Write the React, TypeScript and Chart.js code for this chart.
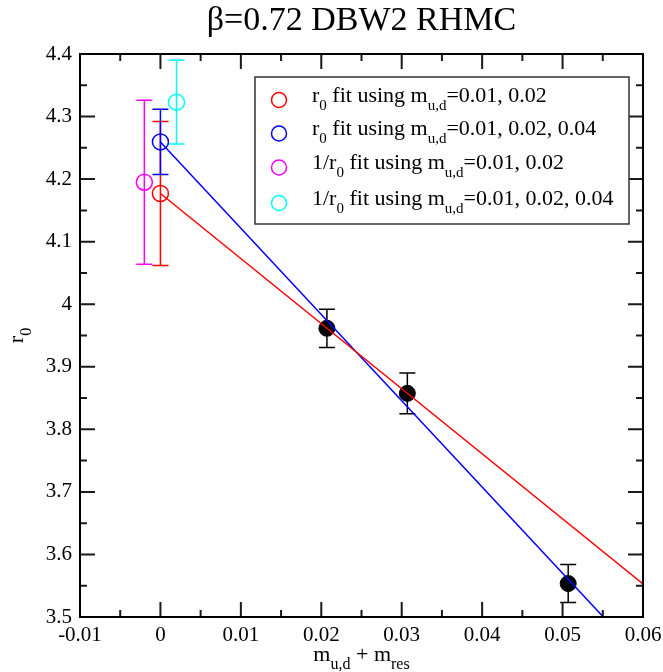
import React, { useEffect, useRef } from "react";
import { Chart, registerables } from "chart.js";

Chart.register(...registerables);

const FONT = "'Liberation Serif', 'Times New Roman', serif";

type Seg = { t: string; sub?: boolean };

// ---- text ----
const titleText = "β=0.72 DBW2 RHMC";
const xAxisLabel: Seg[] = [{ t: "m" }, { t: "u,d", sub: true }, { t: " + m" }, { t: "res", sub: true }];
const yAxisLabel: Seg[] = [{ t: "r" }, { t: "0", sub: true }];

// ---- axes ----
const xRange = [-0.01, 0.06];
const yRange = [3.5, 4.4];
const xMajorStep = 0.01;
const xMinorStep = 0.005;
const yMajorStep = 0.1;
const yMinorStep = 0.05;

// ---- simulation points ----
const simMass = [0.0207, 0.0307, 0.0507];
const simR0 = [3.9615, 3.8575, 3.5535];
const simR0Err = [0.0305, 0.0325, 0.0305];

// ---- chiral extrapolations ----
const extrapNames: Seg[][] = [
  [{ t: "r" }, { t: "0", sub: true }, { t: " fit using m" }, { t: "u,d", sub: true }, { t: "=0.01, 0.02" }],
  [{ t: "r" }, { t: "0", sub: true }, { t: " fit using m" }, { t: "u,d", sub: true }, { t: "=0.01, 0.02, 0.04" }],
  [{ t: "1/r" }, { t: "0", sub: true }, { t: " fit using m" }, { t: "u,d", sub: true }, { t: "=0.01, 0.02" }],
  [{ t: "1/r" }, { t: "0", sub: true }, { t: " fit using m" }, { t: "u,d", sub: true }, { t: "=0.01, 0.02, 0.04" }],
];
const extrapMass = [0, 0, -0.002, 0.002];
const extrapR0 = [4.177, 4.2595, 4.195, 4.323];
const extrapR0Err = [0.115, 0.052, 0.131, 0.067];
const extrapColors = ["#ff0000", "#0000ff", "#ff00ff", "#00ffff"];

// ---- linear fits ----
const fitMass = [0, 0.06];
const fit2ptR0 = [4.177, 3.553];
const fit3ptR0 = [4.2595, 3.432];

function setFont(ctx: CanvasRenderingContext2D, size: number) {
  ctx.font = `${size}px ${FONT}`;
}

function richWidth(ctx: CanvasRenderingContext2D, segs: Seg[], main: number, sub: number) {
  let w = 0;
  for (const s of segs) {
    setFont(ctx, s.sub ? sub : main);
    w += ctx.measureText(s.t).width;
  }
  return w;
}

function drawRich(
  ctx: CanvasRenderingContext2D,
  segs: Seg[],
  x: number,
  y: number,
  main: number,
  sub: number,
  subOff: number
) {
  let cx = x;
  ctx.textAlign = "left";
  ctx.textBaseline = "alphabetic";
  for (const s of segs) {
    setFont(ctx, s.sub ? sub : main);
    ctx.fillText(s.t, cx, s.sub ? y + subOff : y);
    cx += ctx.measureText(s.t).width;
  }
}

const decorPlugin = {
  id: "decor",
  beforeDatasetsDraw(chart: any) {
    const ctx: CanvasRenderingContext2D = chart.ctx;
    const xs = chart.scales.x;
    const ys = chart.scales.y;
    ctx.save();
    ctx.lineWidth = 1.5;
    chart.data.datasets.forEach((ds: any) => {
      if (!ds.errorBars) return;
      ctx.strokeStyle = ds.borderColor;
      ds.data.forEach((p: any, i: number) => {
        const e = ds.errorBars[i];
        const px = xs.getPixelForValue(p.x);
        const pt = ys.getPixelForValue(p.y + e);
        const pb = ys.getPixelForValue(p.y - e);
        ctx.beginPath();
        ctx.moveTo(px, pt);
        ctx.lineTo(px, pb);
        ctx.moveTo(px - 8, pt);
        ctx.lineTo(px + 8, pt);
        ctx.moveTo(px - 8, pb);
        ctx.lineTo(px + 8, pb);
        ctx.stroke();
      });
    });
    ctx.restore();
  },
  afterDraw(chart: any) {
    const ctx: CanvasRenderingContext2D = chart.ctx;
    const xs = chart.scales.x;
    const ys = chart.scales.y;
    const a = chart.chartArea;
    ctx.save();

    // ticks (inside, all four sides)
    ctx.strokeStyle = "#1a1a1a";
    ctx.lineWidth = 2;
    const nx = Math.round((xRange[1] - xRange[0]) / xMinorStep);
    const xr = Math.round(xMajorStep / xMinorStep);
    for (let i = 1; i < nx; i++) {
      const px = xs.getPixelForValue(xRange[0] + i * xMinorStep);
      const len = i % xr === 0 ? 15 : 7;
      ctx.beginPath();
      ctx.moveTo(px, a.bottom);
      ctx.lineTo(px, a.bottom - len);
      ctx.moveTo(px, a.top);
      ctx.lineTo(px, a.top + len);
      ctx.stroke();
    }
    const ny = Math.round((yRange[1] - yRange[0]) / yMinorStep);
    const yr = Math.round(yMajorStep / yMinorStep);
    for (let i = 1; i < ny; i++) {
      const py = ys.getPixelForValue(yRange[0] + i * yMinorStep);
      const len = i % yr === 0 ? 15 : 7;
      ctx.beginPath();
      ctx.moveTo(a.left, py);
      ctx.lineTo(a.left + len, py);
      ctx.moveTo(a.right, py);
      ctx.lineTo(a.right - len, py);
      ctx.stroke();
    }

    // frame
    ctx.strokeStyle = "#000";
    ctx.lineWidth = 2;
    ctx.strokeRect(a.left, a.top, a.right - a.left, a.bottom - a.top);

    ctx.fillStyle = "#000";
    // title
    setFont(ctx, 34);
    ctx.textAlign = "center";
    ctx.textBaseline = "alphabetic";
    ctx.fillText(titleText, (a.left + a.right) / 2, 30);

    // x label
    const cx = (a.left + a.right) / 2;
    const xw = richWidth(ctx, xAxisLabel, 22, 16);
    drawRich(ctx, xAxisLabel, cx - xw / 2, 661, 22, 16, 8);

    // y label
    const cy = (a.top + a.bottom) / 2;
    const yw = richWidth(ctx, yAxisLabel, 22, 16);
    ctx.save();
    ctx.translate(23, cy);
    ctx.rotate(-Math.PI / 2);
    drawRich(ctx, yAxisLabel, -yw / 2, 0, 22, 16, 8);
    ctx.restore();

    // legend
    const box = { l: 255, t: 77, r: 629, b: 224 };
    ctx.fillStyle = "#fff";
    ctx.fillRect(box.l, box.t, box.r - box.l, box.b - box.t);
    ctx.strokeStyle = "#333";
    ctx.lineWidth = 1.5;
    ctx.strokeRect(box.l, box.t, box.r - box.l, box.b - box.t);
    const rows = [100, 133.5, 167.5, 203];
    extrapNames.forEach((segs, i) => {
      const ry = rows[i];
      ctx.strokeStyle = extrapColors[i];
      ctx.lineWidth = 1.5;
      ctx.beginPath();
      ctx.arc(279, ry, 7.5, 0, Math.PI * 2);
      ctx.stroke();
      ctx.fillStyle = "#000";
      drawRich(ctx, segs, 312, ry + 1.5, 22, 15, 8);
    });

    ctx.restore();
  },
};

export default function App() {
  const ref = useRef<HTMLCanvasElement | null>(null);

  useEffect(() => {
    document.body.style.margin = "0";
    const canvas = ref.current;
    if (!canvas) return;

    const datasets: any[] = [
      {
        label: "fit2",
        data: fitMass.map((x, i) => ({ x, y: fit2ptR0[i] })),
        showLine: true,
        borderColor: "#ff0000",
        borderWidth: 1.5,
        pointRadius: 0,
        order: 0,
      },
      {
        label: "fit3",
        data: fitMass.map((x, i) => ({ x, y: fit3ptR0[i] })),
        showLine: true,
        borderColor: "#0000ff",
        borderWidth: 1.5,
        pointRadius: 0,
        order: 0,
      },
      {
        label: "sim",
        data: simMass.map((x, i) => ({ x, y: simR0[i] })),
        errorBars: simR0Err,
        showLine: false,
        borderColor: "#000000",
        backgroundColor: "#000000",
        pointRadius: 8,
        pointBorderWidth: 1,
        order: 2,
      },
      ...extrapMass.map((x, i) => ({
        label: "ext" + i,
        data: [{ x, y: extrapR0[i] }],
        errorBars: [extrapR0Err[i]],
        showLine: false,
        borderColor: extrapColors[i],
        backgroundColor: "rgba(0,0,0,0)",
        pointRadius: 8,
        pointBorderWidth: 1.5,
        order: 2,
      })),
    ];

    const chart = new Chart(canvas, {
      type: "scatter",
      data: { datasets },
      options: {
        responsive: false,
        animation: false,
        devicePixelRatio: 1,
        layout: { padding: { left: 0, right: 20, top: 54, bottom: 0 } },
        plugins: { legend: { display: false }, title: { display: false }, tooltip: { enabled: false } },
        scales: {
          x: {
            type: "linear",
            min: xRange[0],
            max: xRange[1],
            grid: { display: false, drawTicks: false },
            border: { display: false },
            afterFit: (s: any) => {
              s.height = 55;
              s.paddingLeft = 0;
              s.paddingRight = 0;
            },
            ticks: {
              stepSize: xMajorStep,
              autoSkip: false,
              maxRotation: 0,
              padding: 6,
              color: "#000",
              font: { family: FONT, size: 21 },
              callback: (v: any) => String(Math.round(Number(v) * 1000) / 1000),
            },
          },
          y: {
            type: "linear",
            min: yRange[0],
            max: yRange[1],
            grid: { display: false, drawTicks: false },
            border: { display: false },
            afterFit: (s: any) => {
              s.width = 80;
              s.paddingTop = 0;
              s.paddingBottom = 0;
            },
            ticks: {
              stepSize: yMajorStep,
              autoSkip: false,
              padding: 8,
              color: "#000",
              font: { family: FONT, size: 21 },
              callback: (v: any) => String(Math.round(Number(v) * 10) / 10),
            },
          },
        },
      } as any,
      plugins: [decorPlugin],
    });

    return () => chart.destroy();
  }, []);

  return (
    <div style={{ width: 663, height: 672 }}>
      <canvas ref={ref} width={663} height={672} style={{ display: "block" }} />
    </div>
  );
}
